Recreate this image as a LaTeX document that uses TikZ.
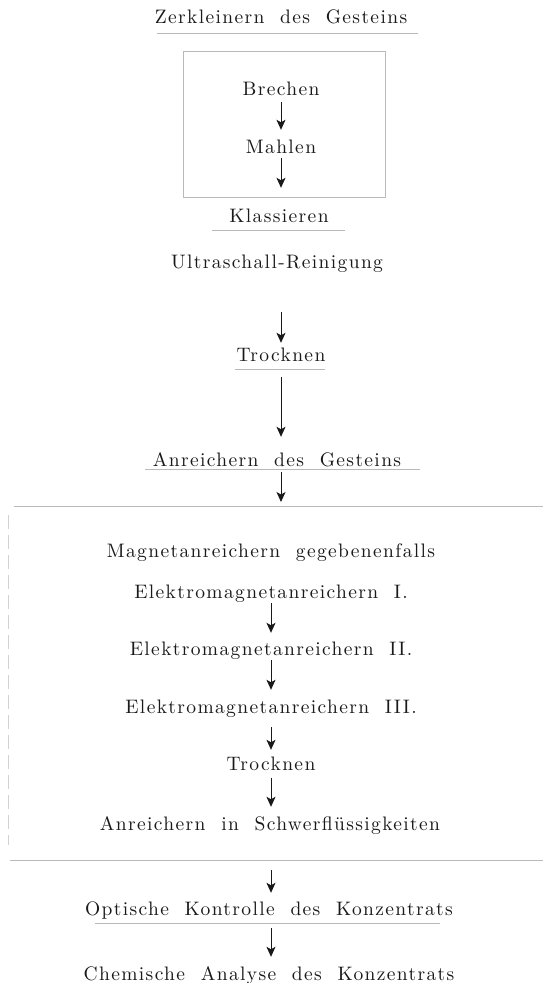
\documentclass[tikz,border=0pt]{standalone}
\usepackage{fontspec}
\newfontfamily\schrift{lmroman10-regular.otf}[LetterSpace=7,WordSpace=2]
\usetikzlibrary{arrows.meta}
\tikzset{
>={Stealth[length=10pt,width=9pt,inset=2.5pt]},
schritt/.style={anchor=base,inner sep=0pt,text height=13pt,text depth=0pt,text=black!90,
  font=\schrift\fontsize{19.5}{23}\selectfont},
pfeil/.style={->,line width=0.9pt,black!90},
linie/.style={line width=0.8pt,gray!55},
rand/.style={line width=0.8pt,gray!35,dash pattern=on 14pt off 6pt}}

\begin{document}
\begin{tikzpicture}[x=1pt,y=-1pt]
\useasboundingbox (0,0) rectangle (543,983);

\node[schritt] (1) at (281,23) {Zerkleinern des Gesteins};
\node[schritt] (2) at (281,95) {Brechen};
\node[schritt] (3) at (281,153) {Mahlen};
\node[schritt] (4) at (279,222) {Klassieren};
\node[schritt] (5) at (277,268) {Ultraschall-Reinigung};
\node[schritt] (6) at (281,361) {Trocknen};
\node[schritt] (7) at (277,466) {Anreichern des Gesteins};
\node[schritt] (8) at (271,557) {Magnetanreichern gegebenenfalls};
\node[schritt] (9) at (271,598) {Elektromagnetanreichern I.};
\node[schritt] (10) at (271,655) {Elektromagnetanreichern II.};
\node[schritt] (11) at (271,713) {Elektromagnetanreichern III.};
\node[schritt] (12) at (271,770) {Trocknen};
\node[schritt] (13) at (270,830) {Anreichern in Schwerflüssigkeiten};
\node[schritt] (14) at (269,915) {Optische Kontrolle des Konzentrats};
\node[schritt] (15) at (269,980) {Chemische Analyse des Konzentrats};

\coordinate (oben) at (281,506);
\coordinate (unten) at (271,860);

% Linien
\draw[linie] (157,33) -- (418,33);
\draw[linie] (183,51) rectangle (385,197);
\draw[linie] (212,230) -- (345,230);
\draw[linie] (235,369) -- (325,369);
\draw[linie] (145,469) -- (420,469);
\draw[linie] (14,506) -- (543,506);
\draw[linie] (10,860) -- (543,860);
\draw[rand] (8,515) -- (8,845);
\draw[linie] (95,923) -- (440,923);

% Pfeile
\draw[pfeil,shorten <=7pt,shorten >=10pt] (2) -- (3);
\draw[pfeil,shorten <=5pt,shorten >=21pt] (3) -- (4.north -| 3);
\draw[pfeil,shorten <=44pt,shorten >=5pt] (5.south -| 6) -- (6);
\draw[pfeil,shorten <=16pt,shorten >=16pt] (6) -- (7.north -| 6);
\draw[pfeil,shorten <=6pt,shorten >=4pt] (7.south -| oben) -- (oben);
\draw[pfeil,shorten <=5pt,shorten >=9pt] (9) -- (10);
\draw[pfeil,shorten <=5pt,shorten >=10pt] (10) -- (11);
\draw[pfeil,shorten <=14pt,shorten >=7pt] (11) -- (12);
\draw[pfeil,shorten <=8pt,shorten >=10pt] (12) -- (13.north -| 12);
\draw[pfeil,shorten <=10pt,shorten >=9pt] (unten) -- (14.north -| unten);
\draw[pfeil,shorten <=13pt,shorten >=10pt] (14.south -| unten) -- (15.north -| unten);

\end{tikzpicture}
\end{document}
